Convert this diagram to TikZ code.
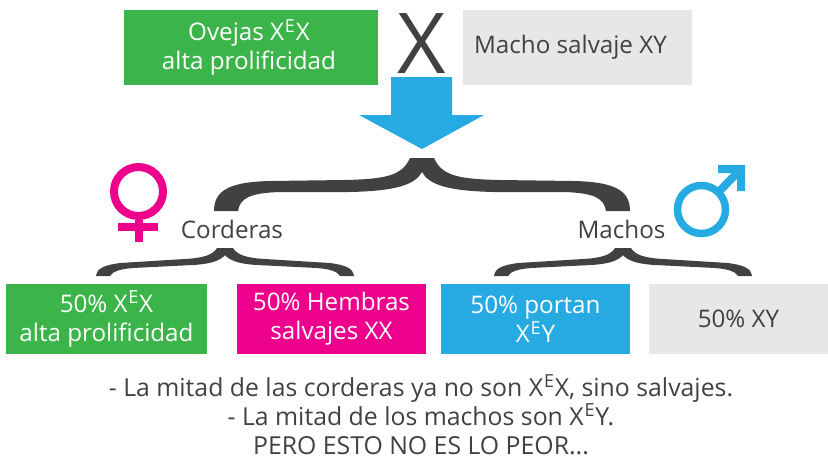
\documentclass[tikz,border=0pt]{standalone}
\usepackage{fontspec}
\setmainfont{Open Sans}
\usepackage{tikz}
\usetikzlibrary{positioning}
\definecolor{ovgreen}{HTML}{3BB54A}
\definecolor{ovblue}{HTML}{27AAE1}
\definecolor{ovpink}{HTML}{EC008C}
\definecolor{ovgray}{HTML}{E6E7E7}
\definecolor{ovdark}{HTML}{414042}
\newcommand{\supE}{\raisebox{.34em}{\fontsize{18}{18}\selectfont\kern.8pt E\kern.8pt}}
\tikzset{x=1pt, y=-1pt,
every node/.style={ % Sets the font of all texts
font=\fontsize{24.2}{29}\selectfont, text=ovdark, inner sep=0pt, outer sep=0pt},
box/.style={ % Sets the properties for each box
align=center, anchor=north west, minimum height=70pt},
greenbox/.style={box, fill=ovgreen, text=white},
pinkbox/.style={box, fill=ovpink, text=white},
bluebox/.style={box, fill=ovblue, text=white},
graybox/.style={box, fill=ovgray},
bigbrace/.pic={
    \foreach \s in {1,-1} % Both halves of the brace
    \fill[ovdark, xscale=\s] (0,14) .. controls (-7,27) and (-27,33) .. (-72,34) -- (-142,34)
    .. controls (-172,35) and (-182,40) .. (-184,53) -- (-208,53)
    .. controls (-208,32) and (-192,24) .. (-152,23) -- (-77,22)
    .. controls (-37,21) and (-20,18) .. (-12,0) -- (0,0) -- cycle;
},
smallbrace/.pic={
    \foreach \s in {1,-1}
    \fill[ovdark, xscale=\s] (0,7) .. controls (-5,13) and (-15,16) .. (-32,17) -- (-92,20)
    .. controls (-104,21) and (-112,23) .. (-115,28) -- (-129,28)
    .. controls (-128,20) and (-120,17) .. (-105,15) -- (-40,11)
    .. controls (-22,10) and (-12,7) .. (-8,0) -- (0,0) -- cycle;
}}
\begin{document}
\begin{tikzpicture}
    \useasboundingbox (0,0) rectangle (828,459);

    % Parents
    \node[greenbox, minimum width=254pt, minimum height=75pt] (ewe) at (124,10) {Ovejas X\supE X\hspace*{4pt}\\alta prolificidad\hspace*{4pt}};
    \node[graybox, right=85pt of ewe, minimum width=229pt, minimum height=75pt] (ram) {Macho salvaje XY\hspace*{14pt}};
    \node[font=\fontsize{84}{84}\selectfont] (cross) at (421.5,43.5) {X};

    % Arrow
    \fill[ovblue] (391,77) -- (452,77) -- (452,115) -- (484,115) -- (422,149) -- (359,115) -- (391,115) -- cycle;

    % Braces
    \pic at (422,158) {bigbrace};
    \pic at (225,248) {smallbrace};
    \pic at (623,248) {smallbrace};

    % Offspring
    \node (lambs) at (232,229) {Corderas};
    \node (males) at (621.5,229) {Machos};

    \node[greenbox, minimum width=201pt] (half1) at (6,284) {50\% X\supE X\\alta prolificidad};
    \node[pinkbox, right=30pt of half1, minimum width=189pt] (half2) {50\% Hembras\\salvajes XX};
    \node[bluebox, right=15pt of half2, minimum width=189pt] (half3) {50\% portan\\X\supE Y};
    \node[graybox, right=19pt of half3, minimum width=179pt] (half4) {50\% XY};

    % Symbols
    \draw[ovpink, line width=8pt] (138.5,191.5) circle (24.5);
    \draw[ovpink, line width=8pt] (138.5,220) -- (138.5,242) (118,227) -- (158,227);
    \draw[ovblue, line width=7.5pt] (701.5,209.5) circle (24);
    \draw[ovblue, line width=8pt] (719,191.5) -- (741,169);
    \fill[ovblue] (718,165) -- (745,165) -- (745,191) -- (737,191) -- (737,173) -- (718,173) -- cycle;

    % Closing text
    \node[align=center, anchor=north, font=\fontsize{24.8}{29}\selectfont] (closing) at (421,375) {- La mitad de las corderas ya no son X\supE X, sino salvajes.\\- La mitad de los machos son X\supE Y.\\PERO ESTO NO ES LO PEOR...};

\end{tikzpicture}
\end{document}
